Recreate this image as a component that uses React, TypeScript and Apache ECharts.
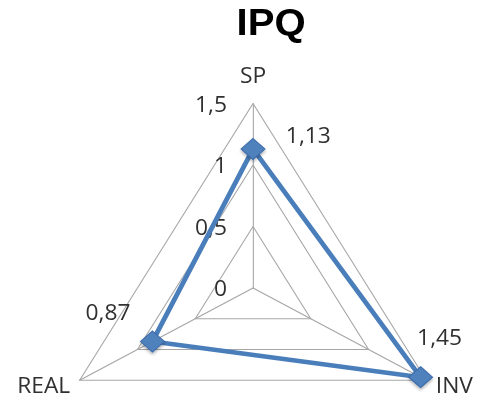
import React, { useEffect, useRef } from "react";
import * as echarts from "echarts";

const titleText = "IPQ";
const indicatorNames = ["SP", "REAL", "INV"];
const indicatorMax = 1.5;
const seriesValues = [1.13, 0.87, 1.45];
// label offsets per vertex (relative to the marker), in chart px
const labelOffsets: [number, number][] = [
  [51, -14],
  [-41, -30],
  [17.5, -40],
];

const STRETCH = 1.085;
const W = Math.round(483 / STRETCH);
const H = 398;

const fmt = (v: number) => String(v).replace(".", ",");

export default function App() {
  const ref = useRef<HTMLDivElement>(null);
  useEffect(() => {
    if (!ref.current) return;
    const chart = echarts.init(ref.current, undefined, { renderer: "svg" });
    const textColor = "#303030";
    const font = "'Open Sans', 'Noto Sans', sans-serif";
    const labelSeries = seriesValues.map((val, i) => ({
      type: "radar" as const,
      z: 5,
      symbol: "circle",
      symbolSize: 2,
      silent: true,
      itemStyle: { color: "rgba(0,0,0,0)", borderWidth: 0 },
      lineStyle: { color: "rgba(0,0,0,0)", width: 0 },
      label: {
        show: true,
        position: "inside",
        offset: labelOffsets[i],
        color: textColor,
        fontSize: 21,
        fontFamily: font,
        formatter: (p: any) => (p.value === val ? fmt(p.value) : ""),
      },
      data: [{ value: seriesValues }],
    }));
    chart.setOption({
      animation: false,
      title: {
        text: titleText,
        left: 218,
        top: 4,
        padding: 0,
        textStyle: {
          fontSize: 37,
          fontWeight: "bold",
          color: "#000",
          fontFamily: "'Liberation Sans', Arial, sans-serif",
        },
      },
      radar: {
        center: [233.2, 288],
        radius: 184.5,
        startAngle: 90,
        shape: "polygon",
        splitNumber: 3,
        nameGap: 10,
        axisName: {
          color: textColor,
          fontSize: 21,
          fontFamily: font,
          padding: [0, 0, 8, 0],
        },
        axisLine: { lineStyle: { color: "#a6a6a6", width: 1 } },
        splitLine: { lineStyle: { color: "#a6a6a6", width: 1 } },
        splitArea: { show: false },
        axisTick: { show: false },
        axisLabel: { show: false },
        indicator: indicatorNames.map((name, i) => ({
          name,
          min: 0,
          max: indicatorMax,
          ...(i === 0
            ? {
                axisLabel: {
                  show: true,
                  color: textColor,
                  fontSize: 21,
                  fontFamily: font,
                  margin: 24,
                  padding: [7, 0, 0, 0],
                  formatter: (v: number) => fmt(v),
                },
              }
            : {}),
        })),
      },
      series: [
        {
          type: "radar",
          z: 3,
          symbol: "diamond",
          symbolSize: [22, 21],
          lineStyle: { color: "#4a7ebb", width: 4.5 },
          itemStyle: {
            color: "#4f81bd",
            borderColor: "#3a6aa8",
            borderWidth: 1,
            shadowBlur: 3,
            shadowColor: "rgba(0,0,0,0.3)",
            shadowOffsetY: 2,
          },
          data: [{ value: seriesValues }],
        },
        ...labelSeries,
      ],
    });
    return () => chart.dispose();
  }, []);
  return (
    <div
      ref={ref}
      style={{
        position: "absolute",
        left: 0,
        top: 0,
        width: W,
        height: H,
        transform: `scaleX(${STRETCH})`,
        transformOrigin: "0 0",
      }}
    />
  );
}
